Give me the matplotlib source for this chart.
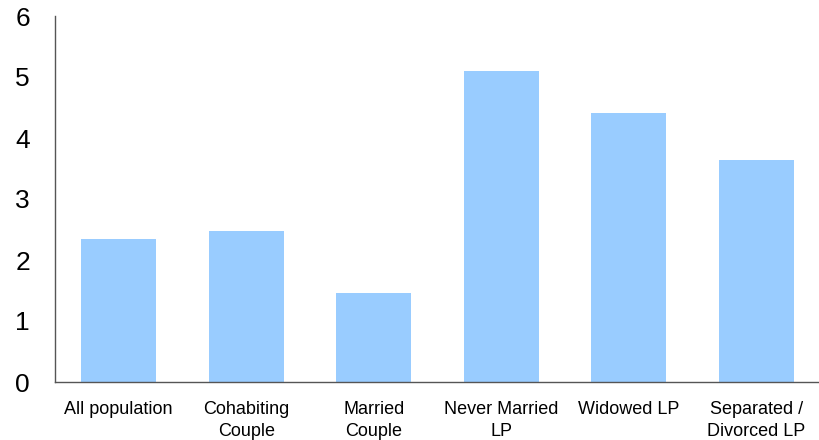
import matplotlib
matplotlib.use("Agg")
import matplotlib.pyplot as plt

categories = ["All population", "Cohabiting\nCouple", "Married\nCouple",
              "Never Married\nLP", "Widowed LP", "Separated /\nDivorced LP"]
values = [2.34, 2.47, 1.46, 5.10, 4.41, 3.64]

plt.rcParams['font.family'] = ['Liberation Sans', 'DejaVu Sans']

fig = plt.figure(figsize=(8.2, 4.4), dpi=100)
ax = fig.add_axes([55/820, 1 - 382/440, 765/820, 366/440])

ax.bar(range(len(values)), values, width=0.59, color="#99CCFF")
ax.set_xlim(-0.5, 5.5)
ax.set_ylim(0, 6)
ax.set_yticks(range(7))
ax.set_xticks(range(len(categories)))
ax.set_xticklabels(categories, fontsize=13, linespacing=1.35)
ax.tick_params(axis='y', labelsize=19, length=0, pad=18)
ax.tick_params(axis='x', length=0, pad=14)

for s in ["top", "right"]:
    ax.spines[s].set_visible(False)
for s in ["left", "bottom"]:
    ax.spines[s].set_color("#555555")
    ax.spines[s].set_linewidth(1)

fig.savefig("out.png", dpi=100)
